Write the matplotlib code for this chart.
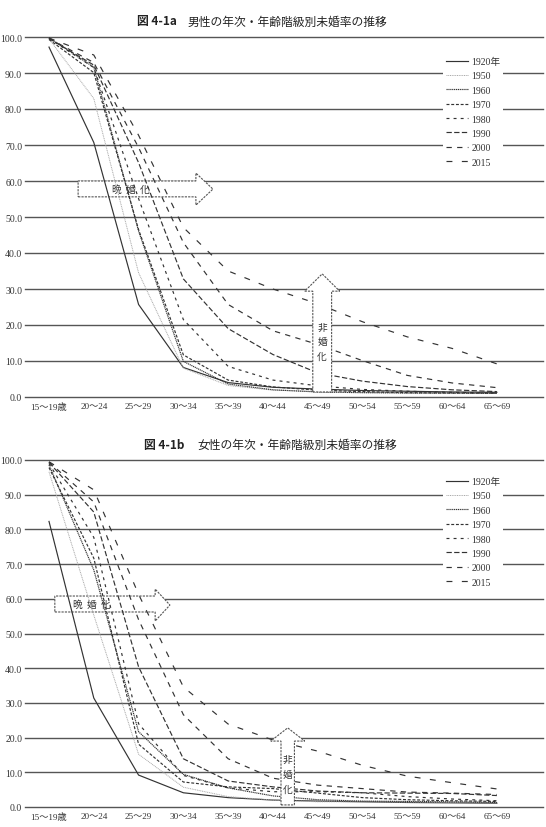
import matplotlib
matplotlib.use('Agg')
import matplotlib.pyplot as plt
from matplotlib.patches import Polygon

# ---------------- data ----------------
ages = ['15～19歳', '20～24', '25～29', '30～34', '35～39', '40～44',
        '45～49', '50～54', '55～59', '60～64', '65～69']
years = ['1920年', '1950', '1960', '1970', '1980', '1990', '2000', '2015']
yticks = [0, 10, 20, 30, 40, 50, 60, 70, 80, 90, 100]

male_1920 = [97.2, 70.7, 25.7, 8.2, 4.0, 2.7, 2.2, 1.8, 1.6, 1.4, 1.3]
male_1950 = [99.5, 82.9, 34.5, 8.0, 3.2, 1.9, 1.5, 1.3, 1.2, 1.1, 1.0]
male_1960 = [99.8, 91.6, 46.1, 9.9, 3.6, 2.0, 1.4, 1.2, 1.1, 1.1, 1.0]
male_1970 = [99.3, 90.1, 46.5, 11.7, 4.7, 2.8, 1.9, 1.5, 1.2, 1.1, 1.1]
male_1980 = [99.6, 91.5, 55.1, 21.5, 8.5, 4.7, 3.1, 2.1, 1.6, 1.3, 1.1]
male_1990 = [99.6, 92.2, 65.1, 32.8, 19.0, 11.8, 6.7, 4.4, 2.9, 2.0, 1.5]
male_2000 = [99.6, 92.9, 69.3, 42.9, 25.7, 18.4, 14.6, 10.1, 6.0, 3.9, 2.6]
male_2015 = [99.7, 95.0, 72.7, 47.1, 35.0, 30.0, 25.9, 20.9, 16.7, 13.5, 9.2]

female_1920 = [82.3, 31.4, 9.2, 4.1, 2.7, 2.0, 1.7, 1.5, 1.3, 1.2, 1.1]
female_1950 = [96.6, 55.3, 15.2, 5.7, 3.0, 2.0, 1.5, 1.5, 1.4, 1.3, 1.2]
female_1960 = [98.6, 68.3, 21.7, 9.4, 5.5, 3.2, 2.1, 1.7, 1.6, 1.5, 1.3]
female_1970 = [97.8, 71.7, 18.1, 7.2, 5.8, 5.3, 4.0, 2.7, 2.1, 1.8, 1.6]
female_1980 = [99.0, 77.7, 24.0, 9.1, 5.5, 4.4, 4.4, 4.1, 3.0, 2.3, 1.8]
female_1990 = [99.3, 85.0, 40.4, 13.9, 7.5, 5.8, 4.6, 4.1, 4.0, 3.9, 3.3]
female_2000 = [99.4, 87.9, 54.0, 26.6, 13.9, 8.3, 6.3, 5.3, 4.3, 4.0, 3.6]
female_2015 = [99.5, 91.4, 61.3, 34.6, 23.9, 19.3, 16.1, 12.0, 8.9, 7.0, 5.2]

male = [male_1920, male_1950, male_1960, male_1970, male_1980, male_1990, male_2000, male_2015]
female = [female_1920, female_1950, female_1960, female_1970, female_1980, female_1990, female_2000, female_2015]

# ---------------- styles ----------------
styles = [
    dict(color='#333333', lw=0.85, dashes=None),
    dict(color='#a8a8a8', lw=0.7, dashes=(1.0, 0.8)),
    dict(color='#333333', lw=0.85, dashes=(1.0, 0.6)),
    dict(color='#333333', lw=0.85, dashes=(2.5, 1.5)),
    dict(color='#333333', lw=0.85, dashes=(2.5, 3.5)),
    dict(color='#333333', lw=0.85, dashes=(4.5, 2.0)),
    dict(color='#333333', lw=0.85, dashes=(4.5, 4.5)),
    dict(color='#333333', lw=0.85, dashes=(5.0, 8.0)),
]

SERIF = ['Liberation Serif', 'Noto Sans CJK JP']
CJK = ['Noto Sans CJK JP', 'DejaVu Sans']

W, H = 546, 828
fig = plt.figure(figsize=(W / 100, H / 100), dpi=100)

XL = (-0.536, 11.03)


def make_axes(top_px, bottom_px):
    ax = fig.add_axes([25 / W, 1 - bottom_px / H, (543 - 25) / W, (bottom_px - top_px) / H])
    ax.set_xlim(*XL)
    ax.set_ylim(0, 100)
    for s in ax.spines.values():
        s.set_visible(False)
    for v in yticks:
        ax.axhline(v, color='#555555', lw=1.0, zorder=0.5, clip_on=False)
    ax.set_yticks(yticks)
    ax.set_yticklabels([f'{v:.1f}' for v in yticks], family=SERIF, fontsize=7, color='#333333')
    ax.set_xticks(range(len(ages)))
    ax.set_xticklabels(ages, family=SERIF, fontsize=6.6, color='#333333')
    ax.tick_params(length=0, pad=3.5)
    ax.tick_params(axis='y', pad=2)
    return ax


def draw_lines(ax, series):
    handles = []
    for vals, lab, st in zip(series, years, styles):
        ln, = ax.plot(range(len(ages)), vals, color=st['color'], lw=st['lw'],
                      zorder=2, clip_on=False, label=lab)
        if st['dashes']:
            ln.set_dashes(st['dashes'])
        handles.append(ln)
    return handles


def harrow(ax, x0, x1, xt, yb0, yb1, yh0, yh1, label, tx):
    pts = [(x0, yb0), (x1, yb0), (x1, yh0), (xt, (yh0 + yh1) / 2), (x1, yh1), (x1, yb1), (x0, yb1)]
    p = Polygon(pts, closed=True, facecolor='white', edgecolor='#555555', lw=0.8,
                linestyle=(0, (2, 1)), zorder=1)
    ax.add_patch(p)
    ax.text(tx, (yb0 + yb1) / 2, label, family=CJK, fontsize=7, color='#333333',
            ha='center', va='center', zorder=1.5)


def varrow(ax, xc, bw, hw, yb, yhb, yt, label, ty):
    pts = [(xc - bw, yb), (xc + bw, yb), (xc + bw, yhb), (xc + hw, yhb), (xc, yt),
           (xc - hw, yhb), (xc - bw, yhb)]
    p = Polygon(pts, closed=True, facecolor='white', edgecolor='#555555', lw=0.8,
                linestyle=(0, (2, 1)), zorder=3)
    ax.add_patch(p)
    ax.text(xc, ty, label, family=CJK, fontsize=7, color='#333333',
            ha='center', va='center', linespacing=1.6, zorder=3.5)


def legend(ax, handles, top_px):
    lg = ax.legend(handles=handles, loc='upper left',
                   bbox_to_anchor=(443 / W, 1 - top_px / H), bbox_transform=fig.transFigure,
                   prop=dict(family=SERIF, size=7), frameon=True, fancybox=False,
                   facecolor='white', edgecolor='none', framealpha=1.0,
                   borderpad=0.3, borderaxespad=0, handlelength=2.3, handletextpad=0.3,
                   labelspacing=0.55)
    lg.set_zorder(4)
    for t in lg.get_texts():
        t.set_color('#333333')


# ---------------- top: male ----------------
ax1 = make_axes(38, 398)
h1 = draw_lines(ax1, male)
harrow(ax1, 0.65, 3.28, 3.66, 55.6, 60.0, 53.3, 62.2, '晩  婚  化', 1.82)
varrow(ax1, 6.10, 0.21, 0.39, 1.4, 29.4, 34.2, '非\n婚\n化', 15.5)
legend(ax1, h1, 55)
fig.text(177 / W, 1 - 22 / H, '図 4-1a', family=CJK, fontsize=8.5, weight='bold',
         ha='right', va='center', color='#222222')
fig.text(188 / W, 1 - 22 / H, '男性の年次・年齢階級別未婚率の推移', family=CJK, fontsize=8.5,
         ha='left', va='center', color='#222222')

# ---------------- bottom: female ----------------
ax2 = make_axes(461, 808)
h2 = draw_lines(ax2, female)
harrow(ax2, 0.13, 2.37, 2.70, 56.2, 60.8, 53.6, 62.8, '晩  婚  化', 0.95)
varrow(ax2, 5.33, 0.15, 0.38, 0.6, 19.0, 22.8, '非\n婚\n化', 9.5)
legend(ax2, h2, 475)
fig.text(184 / W, 1 - 445 / H, '図 4-1b', family=CJK, fontsize=8.5, weight='bold',
         ha='right', va='center', color='#222222')
fig.text(197 / W, 1 - 445 / H, '女性の年次・年齢階級別未婚率の推移', family=CJK, fontsize=8.5,
         ha='left', va='center', color='#222222')

fig.savefig('out.png', dpi=100, facecolor='white')
